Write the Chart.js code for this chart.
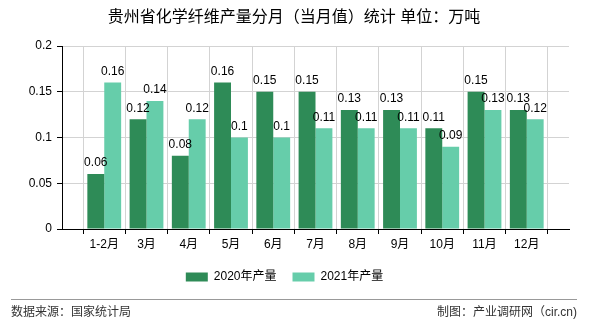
<!DOCTYPE html>
<html>
<head>
<meta charset="utf-8">
<script src="https://cdn.jsdelivr.net/npm/chart.js@4/dist/chart.umd.min.js"></script>
<style>
  html, body { margin: 0; padding: 0; background: #fff; }
  #wrap { width: 590px; height: 330px; position: relative; }
</style>
</head>
<body>
<div id="wrap"><canvas id="chart" width="590" height="330"></canvas></div>
<script>
// Chart data
const categories = ['1-2月', '3月', '4月', '5月', '6月', '7月', '8月', '9月', '10月', '11月', '12月'];
const output2020 = [0.06, 0.12, 0.08, 0.16, 0.15, 0.15, 0.13, 0.13, 0.11, 0.15, 0.13];
const output2021 = [0.16, 0.14, 0.12, 0.1, 0.1, 0.11, 0.11, 0.11, 0.09, 0.13, 0.12];
const seriesNames = ['2020年产量', '2021年产量'];
const yTicks = [0, 0.05, 0.1, 0.15, 0.2];

const titleText = '贵州省化学纤维产量分月（当月值）统计 单位：万吨';
const sourceText = '数据来源：国家统计局';
const makerText = '制图：产业调研网（cir.cn)';

const FONT = "'Liberation Sans', 'Noto Sans CJK SC', sans-serif";

// Axis has an empty slot at each end, so labels sit on grid lines
const labels = [''].concat(categories, ['']);
const pad = arr => [null].concat(arr, [null]);

// Value labels above each bar
const valueLabels = {
    id: 'valueLabels',
    afterDatasetsDraw(chart) {
        const ctx = chart.ctx;
        ctx.save();
        ctx.font = '12px ' + FONT;
        ctx.fillStyle = '#000';
        ctx.textAlign = 'center';
        ctx.textBaseline = 'bottom';
        chart.data.datasets.forEach((ds, i) => {
            chart.getDatasetMeta(i).data.forEach((bar, j) => {
                const v = ds.data[j];
                if (v === null) return;
                ctx.fillText(String(v), bar.x, bar.y - 5);
            });
        });
        ctx.restore();
    }
};

// Title, footer line and footer texts
const frame = {
    id: 'frame',
    afterDraw(chart) {
        const ctx = chart.ctx;
        ctx.save();
        ctx.fillStyle = '#000';
        ctx.textBaseline = 'middle';
        ctx.textAlign = 'center';
        ctx.font = '16px ' + FONT;
        ctx.fillText(titleText, 294, 18);

        ctx.strokeStyle = '#999';
        ctx.lineWidth = 1;
        ctx.beginPath();
        ctx.moveTo(11, 299.5);
        ctx.lineTo(577, 299.5);
        ctx.stroke();

        ctx.fillStyle = '#333';
        ctx.font = '12px ' + FONT;
        ctx.textAlign = 'left';
        ctx.fillText(sourceText, 11, 313);
        ctx.textAlign = 'right';
        ctx.fillText(makerText, 577, 313);
        ctx.restore();
    }
};

new Chart(document.getElementById('chart').getContext('2d'), {
    type: 'bar',
    data: {
        labels: labels,
        datasets: [{
            label: seriesNames[0],
            data: pad(output2020),
            backgroundColor: '#2e8b57',
            borderWidth: 0
        }, {
            label: seriesNames[1],
            data: pad(output2021),
            backgroundColor: '#66cdaa',
            borderWidth: 0
        }]
    },
    options: {
        responsive: false,
        animation: false,
        devicePixelRatio: 1,
        layout: { padding: { top: 46, right: 21, left: 0, bottom: 37 } },
        datasets: { bar: { categoryPercentage: 0.8, barPercentage: 1 } },
        scales: {
            x: {
                offset: false,
                grid: { color: '#d3d3d3', tickColor: '#000', tickLength: 5 },
                border: { color: '#000', width: 1 },
                ticks: { color: '#000', font: { size: 12, family: FONT }, padding: 3, maxRotation: 0, autoSkip: false },
                afterFit: s => { s.height = 26; }
            },
            y: {
                min: 0,
                max: 0.2,
                grid: { color: '#d3d3d3', tickColor: '#000', tickLength: 5 },
                border: { color: '#000', width: 1 },
                afterBuildTicks: s => { s.ticks = yTicks.map(v => ({ value: v })); },
                ticks: {
                    color: '#000',
                    font: { size: 12, family: FONT },
                    padding: 5,
                    callback: v => String(+Number(v).toFixed(2))
                },
                afterFit: s => { s.width = 62; }
            }
        },
        plugins: {
            legend: {
                position: 'bottom',
                labels: {
                    boxWidth: 22,
                    boxHeight: 9,
                    padding: 16,
                    color: '#000',
                    font: { size: 12, family: FONT }
                }
            },
            tooltip: { enabled: false }
        }
    },
    plugins: [valueLabels, frame]
});
</script>
</body>
</html>
